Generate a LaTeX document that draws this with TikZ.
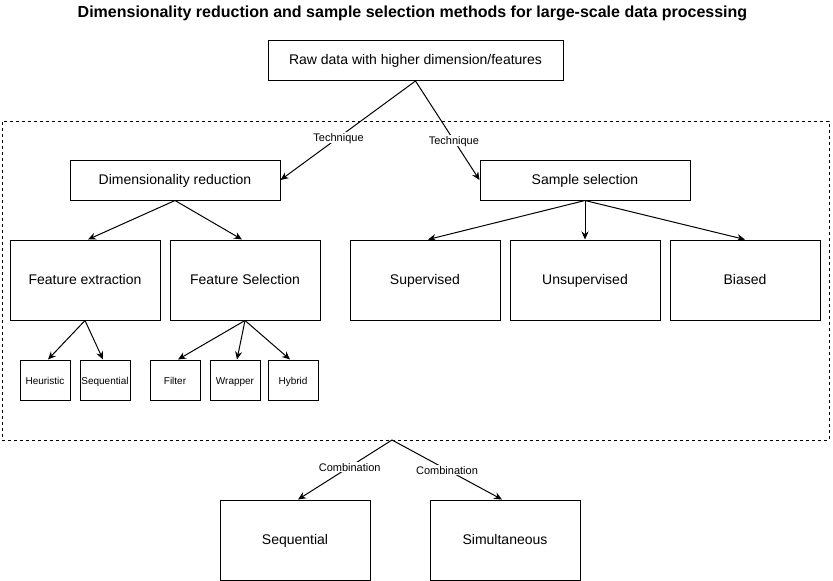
\documentclass[tikz,border=0pt]{standalone}
\usepackage{fontspec}
\setmainfont{Liberation Sans}
\usetikzlibrary{arrows.meta,calc}
\tikzset{
  box/.style={draw, line width=1pt, fill=white, inner sep=0pt, text height=0.85em, text depth=0pt, font=\fontsize{14}{16}\selectfont},
  bigbox/.style={box, minimum width=150pt, minimum height=80pt},
  midbox/.style={box, minimum width=210pt, minimum height=40pt},
  smallbox/.style={box, minimum width=50pt, minimum height=40pt, font=\fontsize{10}{12}\selectfont},
  arr/.style={line width=1pt, -{Stealth[length=8pt,width=7pt]}},
  lbl/.style={fill=white, inner sep=1pt, text height=0.85em, text depth=0pt, font=\fontsize{11}{13}\selectfont},
  group/.style={draw, line width=1pt, dash pattern=on 3pt off 3pt, inner sep=0pt}
}
\begin{document}
\begin{tikzpicture}[x=1pt,y=-1pt]
\useasboundingbox (0,0) rectangle (833,581);
\node[font=\fontsize{16}{19}\selectfont\bfseries] (title) at (412.5,13) {Dimensionality reduction and sample selection methods for large-scale data processing};
\node[group, minimum width=827pt, minimum height=319pt] (grp) at (415.5,280.5) {};
\node[box, minimum width=295pt, minimum height=40pt] (raw) at (415.5,60.5) {Raw data with higher dimension/features};
\node[midbox] (dr) at (175,180) {Dimensionality reduction};
\node[midbox] (ss) at (585,180) {Sample selection};
\node[bigbox] (fe) at (85,280) {Feature extraction};
\node[bigbox] (fs) at (245,280) {Feature Selection};
\node[bigbox] (sup) at (425,280) {Supervised};
\node[bigbox] (uns) at (585,280) {Unsupervised};
\node[bigbox] (bia) at (745,280) {Biased};
\node[smallbox] (heu) at (45,380) {Heuristic};
\node[smallbox] (seqa) at (105,380) {Sequential};
\node[smallbox] (fil) at (175,380) {Filter};
\node[smallbox] (wra) at (235,380) {Wrapper};
\node[smallbox] (hyb) at (293,380) {Hybrid};
\node[bigbox] (seqb) at (295,540) {Sequential};
\node[bigbox] (sim) at (505,540) {Simultaneous};
\coordinate (gs) at (392,440);
\draw[arr] (raw.south) -- node[lbl, pos=0.57] {Technique} (dr.east);
\draw[arr] (raw.south) -- node[lbl, pos=0.6] {Technique} (ss.west);
\draw[arr] (dr.south) -- ($(fe.north)+(3,0)$);
\draw[arr] (dr.south) -- ($(fs.north)+(-3,0)$);
\draw[arr] (ss.south) -- ($(sup.north)+(3,0)$);
\draw[arr] (ss.south) -- (uns.north);
\draw[arr] (ss.south) -- (bia.north);
\draw[arr] (fe.south) -- ($(heu.north)+(3,0)$);
\draw[arr] (fe.south) -- ($(seqa.north)+(-2,0)$);
\draw[arr] (fs.south) -- ($(fil.north)+(3,0)$);
\draw[arr] (fs.south) -- ($(wra.north)+(2,0)$);
\draw[arr] (fs.south) -- ($(hyb.north)+(-3,0)$);
\draw[arr] (gs) -- node[lbl, pos=0.45] {Combination} ($(seqb.north)+(3,0)$);
\draw[arr] (gs) -- node[lbl, pos=0.5] {Combination} ($(sim.north)+(-3,0)$);
\end{tikzpicture}
\end{document}
